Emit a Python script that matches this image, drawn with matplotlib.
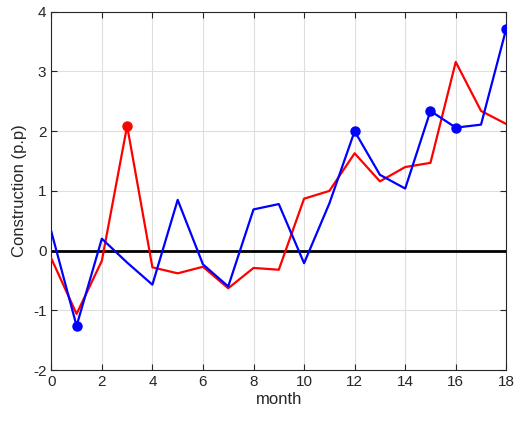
import numpy as np
import matplotlib
matplotlib.use('Agg')
import matplotlib.pyplot as plt

plt.rcParams['font.family'] = ['Liberation Sans', 'DejaVu Sans']
plt.rcParams['axes.unicode_minus'] = False

# monthly values
months = np.arange(0, 19)
red_vals = [-0.13, -1.06, -0.17, 2.09, -0.28, -0.38, -0.27, -0.63, -0.29, -0.32,
            0.87, 1.00, 1.63, 1.16, 1.40, 1.47, 3.16, 2.34, 2.12]
blue_vals = [0.32, -1.26, 0.20, -0.20, -0.57, 0.85, -0.23, -0.60, 0.69, 0.78,
             -0.21, 0.79, 2.00, 1.27, 1.04, 2.34, 2.06, 2.11, 3.72]
red_marked = [3]
blue_marked = [1, 12, 15, 16, 18]

fig = plt.figure(figsize=(5.16, 4.21), dpi=100)
ax = fig.add_axes([0.0994, 0.121, 0.8818, 0.851])

ax.axhline(0, color='black', linewidth=2, zorder=2)
ax.plot(months, red_vals, '-', color='#ff0000', linewidth=1.6, zorder=3)
ax.plot(months, blue_vals, '-', color='#0000ff', linewidth=1.6, zorder=3)
ax.plot(months[red_marked], np.array(red_vals)[red_marked], 'o', color='#ff0000',
        markersize=6.5, zorder=4)
ax.plot(months[blue_marked], np.array(blue_vals)[blue_marked], 'o', color='#0000ff',
        markersize=6.5, zorder=4)

ax.set_xlim(0, 18)
ax.set_ylim(-2, 4)
ax.set_xticks(np.arange(0, 19, 2))
ax.set_yticks(np.arange(-2, 5, 1))
ax.grid(True, color='#dedede', linewidth=0.8)
ax.set_axisbelow(True)
ax.tick_params(direction='in', length=4, labelsize=11, colors='#262626',
               top=True, right=True)
for s in ax.spines.values():
    s.set_color('#262626')
    s.set_linewidth(0.8)

ax.set_xlabel('month', fontsize=12, color='#262626', labelpad=2)
ax.set_ylabel('Construction (p.p)', fontsize=12, color='#262626', labelpad=4)

fig.savefig('out.png', dpi=100)
